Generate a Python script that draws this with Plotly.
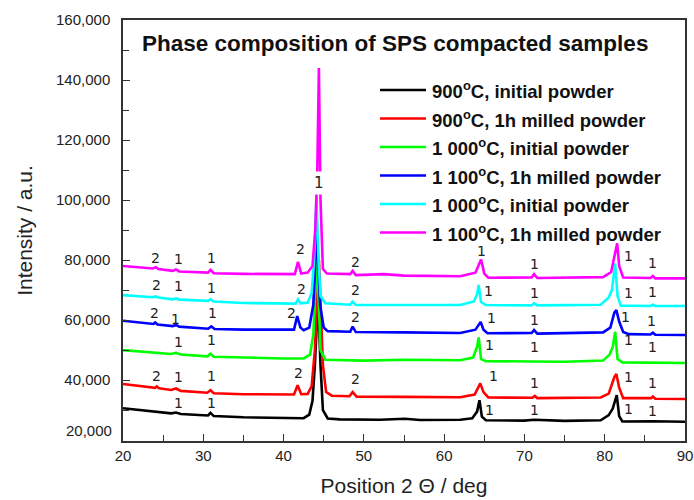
import plotly.graph_objects as go

# ---------------- data ----------------
names = ["900<sup>o</sup>C, initial powder",
         "900<sup>o</sup>C, 1h milled powder",
         "1 000<sup>o</sup>C, initial powder",
         "1 100<sup>o</sup>C, 1h milled powder",
         "1 000<sup>o</sup>C, initial powder",
         "1 100<sup>o</sup>C, 1h milled powder"]
colors = ["#000000", "#ff0000", "#00ff00", "#0000ff", "#00ffff", "#ff00ff"]

black_x = [20, 22, 24, 26, 26.6, 27.2, 30, 30.6, 30.9, 31.3, 35, 40, 42.5, 43.2, 43.6, 43.9, 44.3, 44.6, 44.9, 45.5,
           47, 52, 55.1, 57, 62, 63.5, 64.1, 64.4, 64.7, 65.2, 70, 71.2, 75, 79.5, 80.5, 81.0, 81.5, 81.8, 82.2, 86, 90]
black_y = [30600, 30000, 29400, 28900, 29200, 28700, 28300, 28200, 29100, 28000, 27600, 27300, 27300, 28500, 33000,
           45000, 68000, 45000, 30000, 27200, 26900, 26800, 27100, 26700, 26800, 27300, 29500, 33300, 27800, 26600,
           26500, 26800, 26400, 26600, 28300, 30500, 35000, 28000, 26200, 26300, 26100]

red_x = [20, 22, 24, 24.2, 24.5, 26, 26.6, 27.2, 30.5, 30.9, 31.3, 35, 40, 41.3, 41.75, 42.2, 43.0, 43.5, 43.9, 44.4,
         44.9, 45.3, 46, 48.2, 48.6, 49.1, 55, 62, 63.8, 64.2, 64.5, 64.9, 65.5, 71, 71.3, 71.6, 79.5, 80.5, 81.2,
         81.45, 81.8, 82.3, 85.8, 86.0, 86.3, 90]
red_y = [38700, 38000, 37400, 37900, 37300, 36700, 37200, 36400, 35800, 36600, 35600, 35300, 35100, 35200, 38300,
         35300, 35400, 38000, 50000, 80000, 45000, 36000, 34800, 34600, 36000, 34500, 34400, 34300, 35200, 37500,
         38900, 36000, 34200, 34100, 34700, 34000, 34200, 35500, 41000, 42000, 37500, 34000, 34000, 34500, 33800, 33700]

green_x = [20, 23, 26, 26.6, 27.2, 30.5, 30.9, 31.3, 35, 40, 42.5, 43.3, 43.7, 44.15, 44.6, 45.2, 50, 55.1, 62, 63.6,
           64.1, 64.3, 64.6, 65.2, 71, 75, 79.8, 80.6, 81.0, 81.3, 81.6, 82.2, 90]
green_y = [50000, 49400, 48700, 49100, 48500, 47900, 48800, 47800, 47500, 47200, 47200, 48500, 55000, 82000, 50000,
           46800, 46500, 46800, 46600, 47500, 51000, 54200, 47000, 46300, 46200, 46100, 46500, 48500, 51000, 56100,
           47000, 45900, 45700]

blue_x = [20, 22, 23.8, 24.0, 24.3, 26.2, 26.6, 27.0, 30.6, 31.0, 31.4, 35, 40, 41.3, 41.7, 42.1, 42.5, 43.2, 43.7,
          44.15, 44.55, 45.0, 45.5, 48.3, 48.6, 49.0, 55, 62, 63.9, 64.3, 64.55, 64.9, 65.4, 70.9, 71.2, 71.6, 79.8,
          80.7, 81.2, 81.45, 81.8, 82.3, 83, 85.7, 86.0, 86.3, 90]
blue_y = [59800, 59200, 58700, 59200, 58500, 58000, 58400, 57800, 57100, 57900, 57000, 56800, 56700, 56800, 61300,
          57500, 56600, 57500, 65000, 90000, 65000, 57500, 56300, 56100, 57800, 56000, 55900, 55700, 56800, 58500,
          59400, 56800, 55600, 55700, 56700, 55500, 55900, 57500, 62500, 63300, 59500, 56000, 55300, 55200, 55800,
          55100, 55000]

cyan_x = [20, 23.7, 24.1, 24.4, 26.2, 26.6, 27.0, 30.6, 30.9, 31.3, 35, 40, 41.5, 41.8, 42.1, 43.0, 43.5, 43.8, 44.1,
          44.35, 44.6, 45.2, 48.3, 48.6, 49.0, 55, 62, 63.7, 64.1, 64.3, 64.6, 65.2, 70.9, 71.2, 71.6, 79.5, 80.5,
          80.9, 81.3, 81.6, 82.0, 85.7, 86.0, 86.3, 90]
cyan_y = [68300, 67600, 67900, 67500, 66900, 67200, 66800, 66400, 66900, 66200, 65700, 65500, 65500, 66900, 65600,
          65800, 69000, 80000, 101000, 80000, 68000, 65600, 65100, 66100, 65000, 65000, 65000, 66200, 68500, 71700,
          66000, 65000, 64900, 65600, 64900, 65100, 67500, 70000, 78900, 68000, 64800, 64700, 65100, 64700, 64700]

magenta_x = [20, 23.7, 24.1, 24.4, 26.2, 26.6, 27.0, 30.6, 30.9, 31.3, 35, 40, 41.4, 41.8, 42.2, 43.0, 43.6, 43.95,
             44.2, 44.4, 44.6, 44.9, 45.4, 48.3, 48.6, 49.0, 52.5, 55, 62, 63.9, 64.3, 64.6, 65.0, 65.5, 70.9, 71.2,
             71.6, 79.8, 80.8, 81.3, 81.55, 81.8, 82.3, 85.7, 86.0, 86.3, 90]
magenta_y = [78000, 77200, 77600, 77000, 76400, 76900, 76200, 75800, 76700, 75600, 75400, 75200, 75300, 79400,
             75500, 75800, 78000, 90000, 110000, 144000, 100000, 77000, 75500, 75300, 76400, 75000, 75300, 74800,
             74600, 75800, 78500, 80200, 75500, 74100, 74200, 75300, 74000, 74300, 76000, 83000, 85600, 78000, 74200,
             74000, 74700, 73900, 73900]

series_x = [black_x, red_x, green_x, blue_x, cyan_x, magenta_x]
series_y = [black_y, red_y, green_y, blue_y, cyan_y, magenta_y]

# peak labels (phase numbers) per series
lab_black = (["1", "1", "1", "1", "1", "1"],
             [26.9, 31.0, 65.6, 71.2, 83.0, 86.0],
             [32400, 32200, 30000, 30000, 30500, 29800])
lab_red = (["2", "1", "1", "2", "2", "1", "1", "1", "1"],
           [24.2, 26.9, 31.0, 41.8, 48.9, 66.2, 71.2, 83.0, 86.0],
           [41400, 41100, 41400, 42400, 40200, 41400, 38900, 41100, 39100])
lab_green = (["1", "1", "1", "1", "1", "1"],
             [26.9, 31.0, 65.6, 71.2, 83.0, 86.0],
             [52800, 53300, 51700, 50900, 53300, 51100])
lab_blue = (["2", "1", "1", "2", "2", "1", "1", "1", "1"],
            [23.9, 26.6, 31.2, 41.0, 48.9, 65.9, 71.2, 82.6, 85.8],
            [62400, 60200, 62200, 62200, 60900, 60600, 60000, 60900, 59800])
lab_cyan = (["2", "1", "1", "2", "2", "1", "1", "1", "1"],
            [24.2, 26.9, 31.0, 42.2, 48.9, 65.5, 71.2, 83.0, 86.0],
            [71700, 71300, 70600, 70200, 70000, 69700, 69100, 69100, 69400])
lab_magenta = (["2", "1", "1", "2", "2", "1", "1", "1", "1"],
               [24.1, 26.9, 31.0, 42.1, 48.9, 64.7, 71.2, 83.0, 86.0],
               [80600, 80200, 80800, 83600, 79400, 83100, 78600, 81300, 78900])
labels = [lab_black, lab_red, lab_green, lab_blue, lab_cyan, lab_magenta]
main_label = ("1", 44.45, 105600)

x_tickvals = [20, 30, 40, 50, 60, 70, 80, 90]
y_tickvals = [40000, 60000, 80000, 100000, 120000, 140000, 160000]

title_text = "Phase composition of SPS compacted samples"
x_title = "Position 2 \u0398 / deg"
y_title = "Intensity / a.u."

# ---------------- layout helpers (pixel -> paper) ----------------
L, R, T, B = 123, 9, 20, 59
PW, PH = 694 - L - R, 500 - T - B


def px(xp):
    return (xp - L) / PW


def py(yp):
    return 1 - (yp - T) / PH


# ---------------- figure ----------------
fig = go.Figure()
for nm, col, xs, ys in zip(names, colors, series_x, series_y):
    fig.add_trace(go.Scatter(x=xs, y=ys, mode="lines", name=nm, showlegend=False,
                             line=dict(color=col, width=2.6)))

ann = []
shapes = []
lab_font = dict(family="DejaVu Sans", size=14, color="#222222")
for txts, xs, ys in labels:
    for t, xv, yv in zip(txts, xs, ys):
        ann.append(dict(x=xv, y=yv, xref="x", yref="y", text=t, showarrow=False,
                        font=lab_font, xanchor="center", yanchor="middle"))
ann.append(dict(x=main_label[1], y=main_label[2], xref="x", yref="y", text=main_label[0],
                showarrow=False, font=dict(family="DejaVu Sans", size=15, color="#222222"),
                bgcolor="white", xanchor="center", yanchor="middle", borderpad=2))
ann.append(dict(x=px(395), y=py(44), xref="paper", yref="paper", yanchor="middle", xanchor="center",
                text="<b>" + title_text + "</b>", showarrow=False,
                font=dict(family="Liberation Sans", size=22.5, color="#111111")))
# 20,000 label, drawn slightly above its tick as in the picture
ann.append(dict(x=0, y=20000, xref="paper", yref="y", text="20,000", showarrow=False,
                xanchor="right", yanchor="middle", xshift=-9, yshift=10,
                font=dict(family="Liberation Sans", size=15, color="#222222")))

# hand-drawn legend (long line samples, bold text)
row_px = [90, 118.5, 147, 175.5, 204, 232.5]
for nm, col, rp in zip(names, colors, row_px):
    shapes.append(dict(type="line", xref="paper", yref="paper", x0=px(380), x1=px(426),
                       y0=py(rp), y1=py(rp), line=dict(color=col, width=2.6)))
    ann.append(dict(x=px(430), y=py(rp), xref="paper", yref="paper", text="<b>" + nm + "</b>",
                    showarrow=False, xanchor="left", yanchor="middle",
                    font=dict(family="Liberation Sans", size=18.5, color="#111111")))

fig.update_layout(
    width=694, height=500,
    margin=dict(l=L, r=R, t=T, b=B),
    paper_bgcolor="white", plot_bgcolor="white",
    showlegend=False,
    annotations=ann,
    shapes=shapes,
    font=dict(family="Liberation Sans", color="#222222"),
)
fig.update_xaxes(range=[20, 90], tickvals=x_tickvals, ticks="inside", ticklen=7, tickwidth=1.3,
                 tickcolor="#333333", showline=True, linecolor="#333333", linewidth=1.5, mirror=True,
                 showgrid=False, zeroline=False, tickfont=dict(size=15, color="#222222"), automargin=False,
                 ticklabeloverflow="allow",
                 minor=dict(dtick=5, tick0=0, ticks="inside", ticklen=6, tickwidth=1.3, tickcolor="#333333"),
                 title=dict(text=x_title, font=dict(size=21, color="#222222"), standoff=16))
fig.update_yaxes(range=[19700, 160000], tickvals=y_tickvals, tickformat=",d", ticks="inside", ticklen=7,
                 tickwidth=1.3, tickcolor="#333333", showline=True, linecolor="#333333", linewidth=1.5,
                 mirror=True, showgrid=False, zeroline=False, tickfont=dict(size=15, color="#222222"),
                 ticklabelstandoff=8, automargin=False, ticklabeloverflow="allow",
                 minor=dict(dtick=10000, tick0=0, ticks="inside", ticklen=6, tickwidth=1.3, tickcolor="#333333"),
                 title=dict(text=y_title, font=dict(size=21, color="#222222"), standoff=18))

fig.write_html("out.html")
